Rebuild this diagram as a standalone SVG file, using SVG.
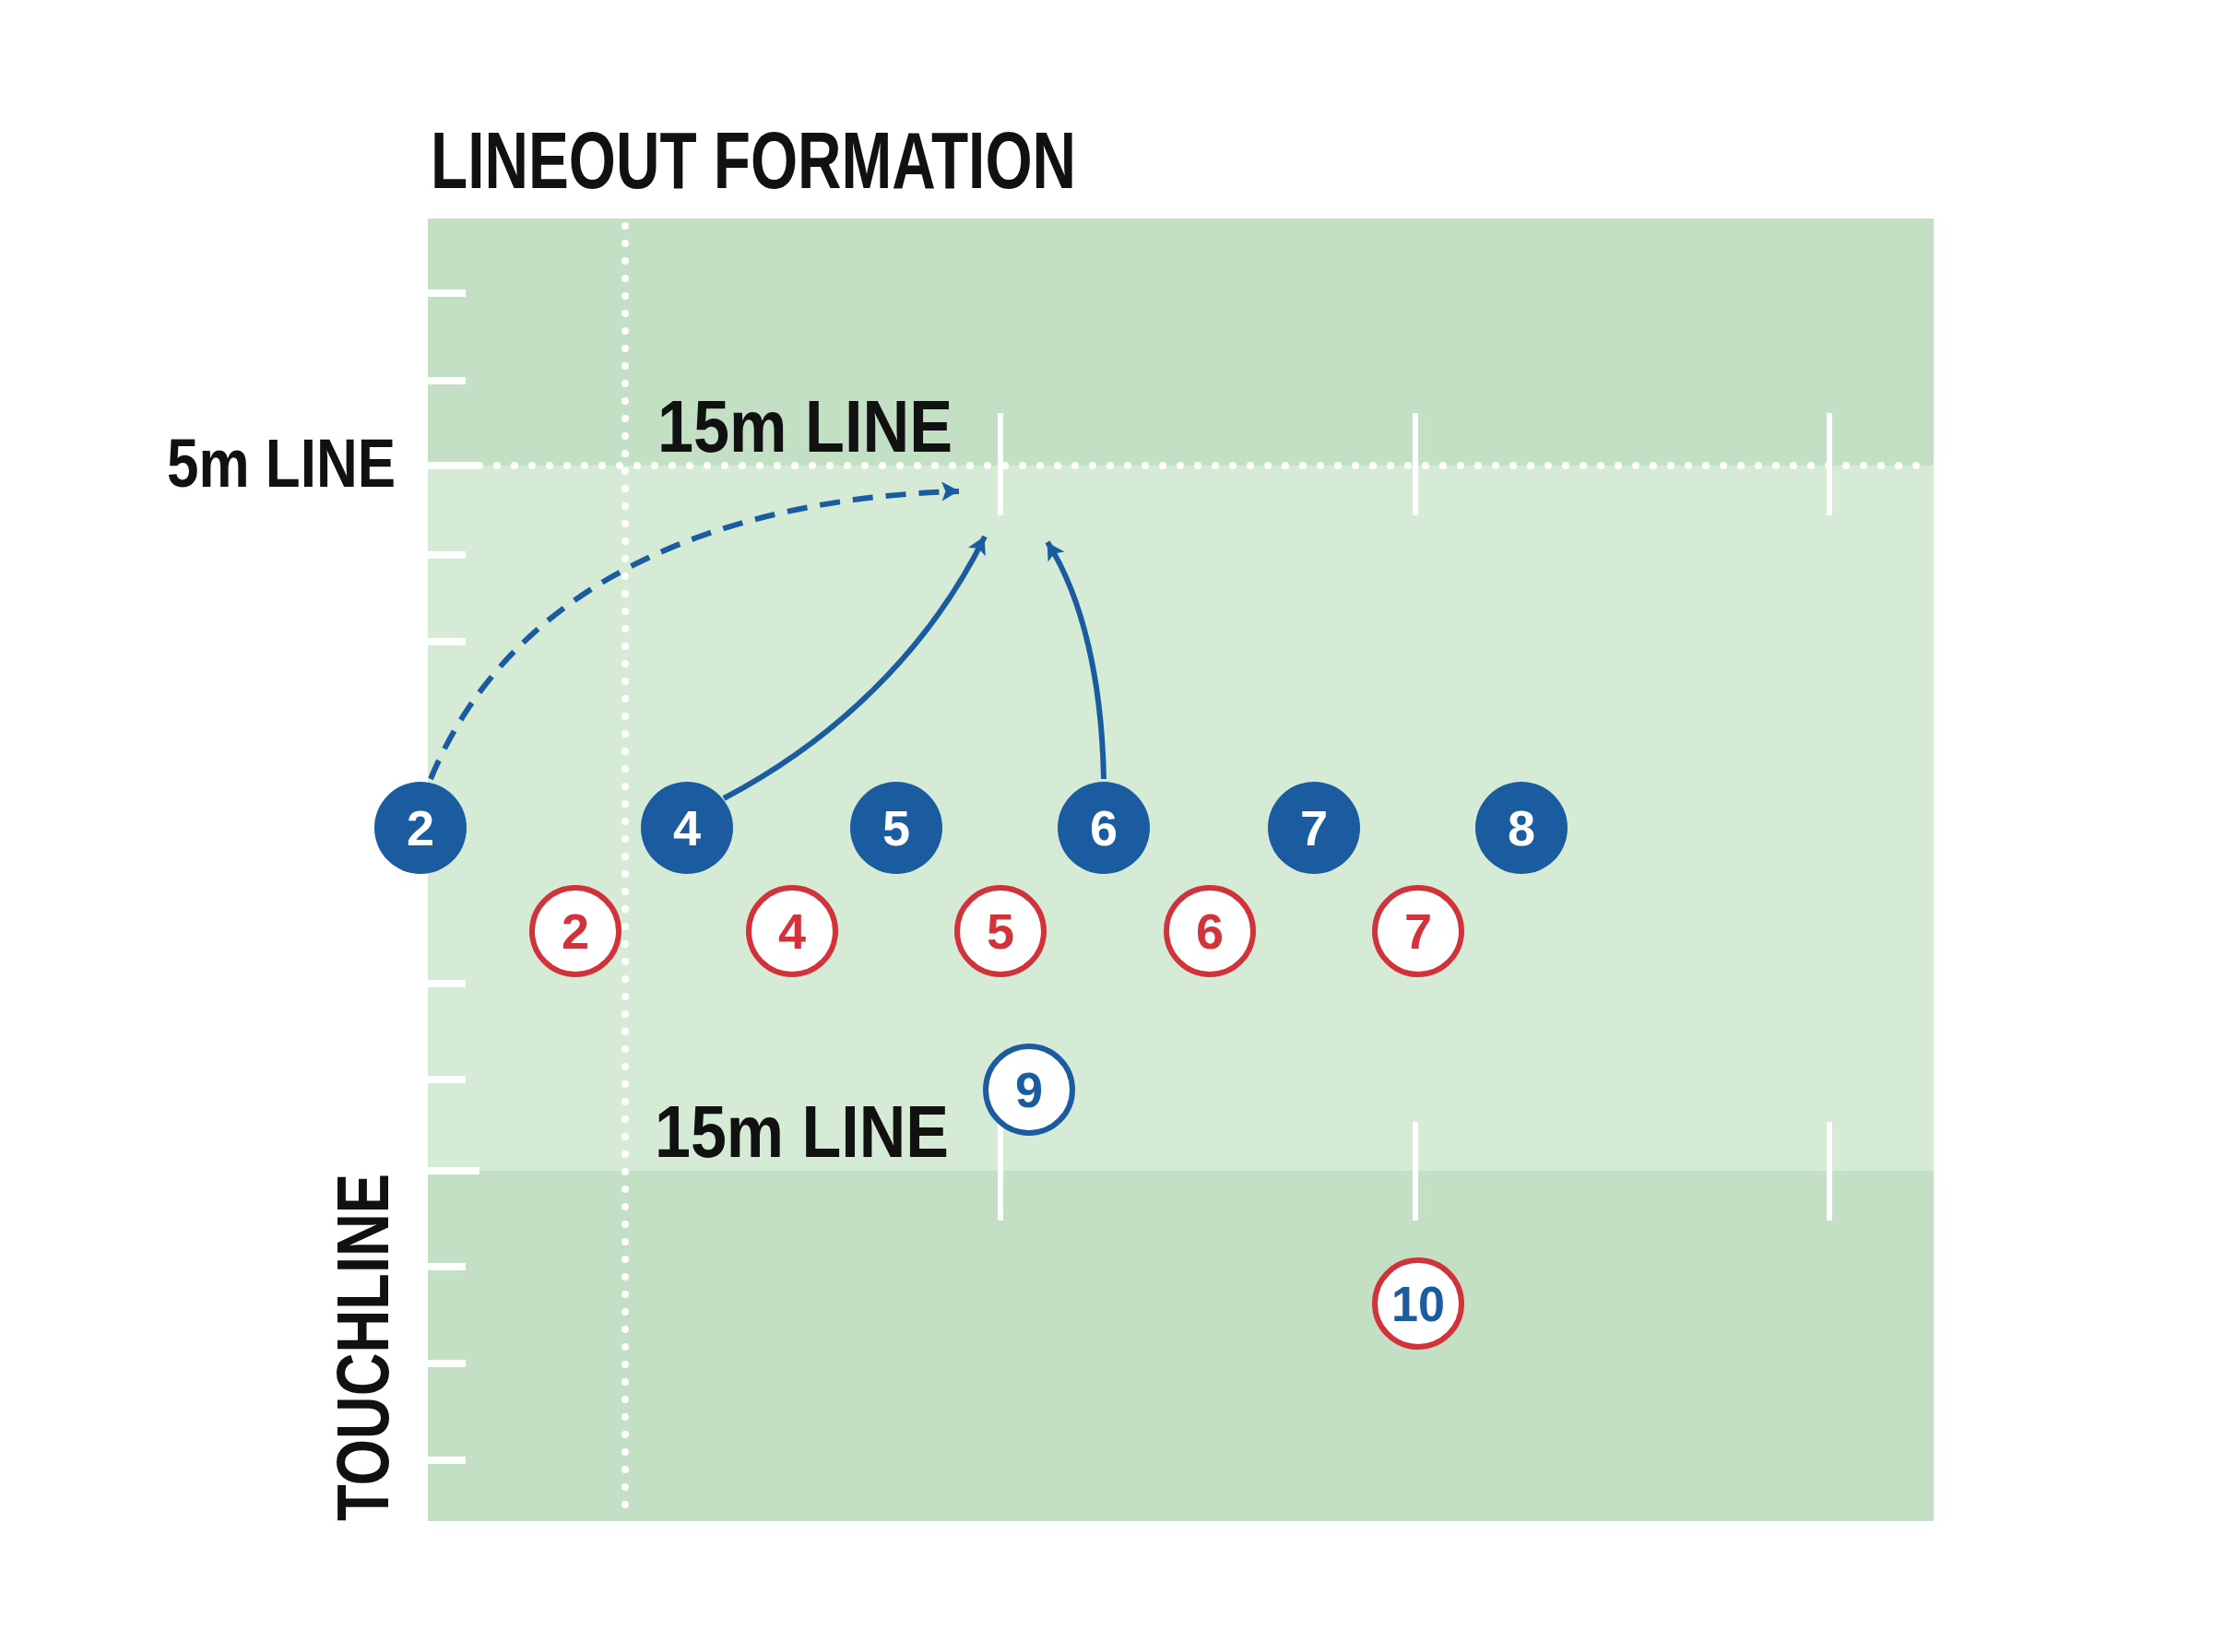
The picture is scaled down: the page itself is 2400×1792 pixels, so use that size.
<svg xmlns="http://www.w3.org/2000/svg" width="2400" height="1792" viewBox="0 0 2400 1792">
<defs>
<style>
.t{font-family:"Liberation Sans",Arial,sans-serif;font-weight:bold;fill:#111}
.bn circle{fill:#1a5c9f}
.bn text{fill:#fff}
.rn circle{fill:#fff;stroke:#d2323a;stroke-width:6}
.rn text{fill:#d2323a}
.num{font-family:"Liberation Sans",Arial,sans-serif;font-weight:bold;font-size:54px;text-anchor:middle}
.tick{stroke:#fff;stroke-width:8}
.conn{fill:none;stroke:#1a5c9f;stroke-width:6}
</style>
<marker id="ah" viewBox="0 0 20 20" refX="18" refY="10" markerWidth="9" markerHeight="9" markerUnits="userSpaceOnUse" orient="auto" style="overflow:visible">
<path d="M-26,-16 L20,10 L-26,36 L-16,10 Z" fill="#1a5c9f" transform="scale(0.9)"/>
</marker>
</defs>
<rect width="2400" height="1792" fill="#fff"/>
<g id="field">
<rect x="464" y="237" width="1633" height="268" fill="#c3dfc4"/>
<rect x="464" y="505" width="1633" height="765" fill="#d6ebd6"/>
<rect x="464" y="1270" width="1633" height="380" fill="#c3dfc4"/>
<line x1="456" y1="237" x2="456" y2="1650" stroke="#fff" stroke-width="10"/>
<g class="tick">
<line x1="464" y1="318" x2="505" y2="318"/><line x1="464" y1="413" x2="505" y2="413"/>
<line x1="464" y1="505" x2="520" y2="505"/><line x1="464" y1="602" x2="505" y2="602"/>
<line x1="464" y1="696" x2="505" y2="696"/><line x1="464" y1="1067" x2="505" y2="1067"/>
<line x1="464" y1="1171" x2="505" y2="1171"/><line x1="464" y1="1270" x2="520" y2="1270"/>
<line x1="464" y1="1374" x2="505" y2="1374"/><line x1="464" y1="1479" x2="505" y2="1479"/>
<line x1="464" y1="1584" x2="505" y2="1584"/>
</g>
<line x1="678" y1="245" x2="678" y2="1650" stroke="#fff" stroke-width="8" stroke-linecap="round" stroke-dasharray="0 19"/>
<line x1="520" y1="505" x2="2097" y2="505" stroke="#fff" stroke-width="8" stroke-linecap="round" stroke-dasharray="0 19"/>
<g stroke="#fff" stroke-width="6">
<line x1="1085" y1="448" x2="1085" y2="559"/><line x1="1535" y1="448" x2="1535" y2="559"/><line x1="1984" y1="448" x2="1984" y2="559"/>
<line x1="1085" y1="1217" x2="1085" y2="1324"/><line x1="1535" y1="1217" x2="1535" y2="1324"/><line x1="1984" y1="1217" x2="1984" y2="1324"/>
</g>
</g>
<g id="labels">
<text class="t" x="467" y="204" font-size="88" textLength="700" lengthAdjust="spacingAndGlyphs">LINEOUT FORMATION</text>
<text class="t" x="181" y="528" font-size="74" textLength="248" lengthAdjust="spacingAndGlyphs">5m LINE</text>
<text class="t" x="713" y="490" font-size="80" textLength="320" lengthAdjust="spacingAndGlyphs">15m LINE</text>
<text class="t" x="710" y="1255" font-size="80" textLength="319" lengthAdjust="spacingAndGlyphs">15m LINE</text>
<text class="t" transform="translate(421,1650) rotate(-90)" font-size="80" textLength="377" lengthAdjust="spacingAndGlyphs">TOUCHLINE</text>
</g>
<g id="connectors">
<path class="conn" d="M467 845 C560 620 800 540 1040 533" stroke-dasharray="22 14" marker-end="url(#ah)"/>
<path class="conn" d="M785 866 C930 790 1020 680 1068 582" marker-end="url(#ah)"/>
<path class="conn" d="M1197 845 C1195 740 1175 650 1136 588" marker-end="url(#ah)"/>
</g>
<g id="b2" class="bn num"><circle cx="456" cy="898" r="50"/><text x="456" y="917">2</text></g>
<g id="b4" class="bn num"><circle cx="745" cy="898" r="50"/><text x="745" y="917">4</text></g>
<g id="b5" class="bn num"><circle cx="972" cy="898" r="50"/><text x="972" y="917">5</text></g>
<g id="b6" class="bn num"><circle cx="1197" cy="898" r="50"/><text x="1197" y="917">6</text></g>
<g id="b7" class="bn num"><circle cx="1425" cy="898" r="50"/><text x="1425" y="917">7</text></g>
<g id="b8" class="bn num"><circle cx="1650" cy="898" r="50"/><text x="1650" y="917">8</text></g>
<g id="r2" class="rn num"><circle cx="624" cy="1010" r="47"/><text x="624" y="1029">2</text></g>
<g id="r4" class="rn num"><circle cx="859" cy="1010" r="47"/><text x="859" y="1029">4</text></g>
<g id="r5" class="rn num"><circle cx="1085" cy="1010" r="47"/><text x="1085" y="1029">5</text></g>
<g id="r6" class="rn num"><circle cx="1312" cy="1010" r="47"/><text x="1312" y="1029">6</text></g>
<g id="r7" class="rn num"><circle cx="1538" cy="1010" r="47"/><text x="1538" y="1029">7</text></g>
<g id="b9" class="num"><circle cx="1116" cy="1182" r="47" fill="#fff" stroke="#1a5c9f" stroke-width="6"/><text x="1116" y="1201" fill="#1a5c9f">9</text></g>
<g id="b10" class="num"><circle cx="1538" cy="1414" r="47" fill="#fff" stroke="#d2323a" stroke-width="6"/><text x="1538" y="1433" fill="#1a5c9f" textLength="58" lengthAdjust="spacingAndGlyphs">10</text></g>
</svg>
